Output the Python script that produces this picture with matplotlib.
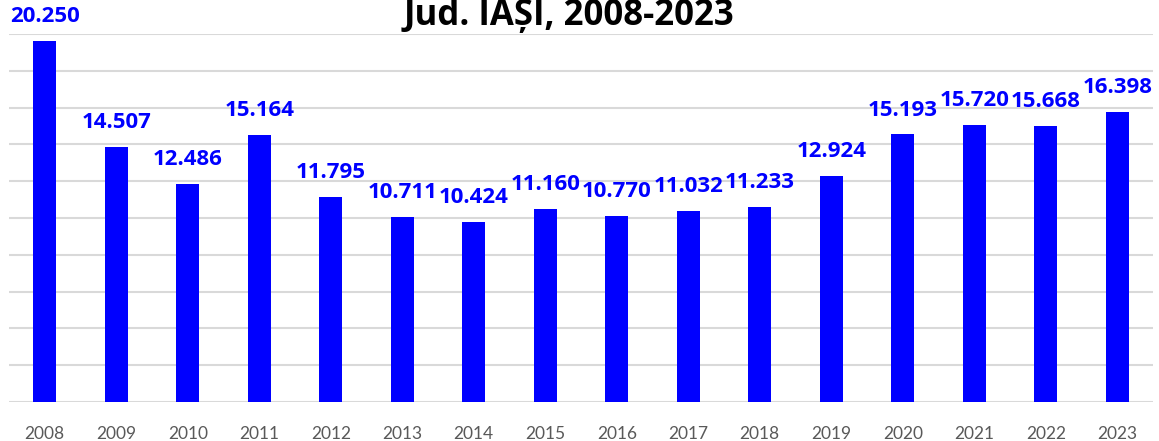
import numpy as np
import matplotlib
matplotlib.use("Agg")
import matplotlib.pyplot as plt

years = ["2008", "2009", "2010", "2011", "2012", "2013", "2014", "2015",
         "2016", "2017", "2018", "2019", "2020", "2021", "2022", "2023"]
values = [20250, 14507, 12486, 15164, 11795, 10711, 10424, 11160,
          10770, 11032, 11233, 12924, 15193, 15720, 15668, 16398]
labels = ["20.250", "14.507", "12.486", "15.164", "11.795", "10.711", "10.424", "11.160",
          "10.770", "11.032", "11.233", "12.924", "15.193", "15.720", "15.668", "16.398"]

plt.rcParams['font.family'] = ['Lato', 'DejaVu Sans']
bold_font = ['Open Sans', 'DejaVu Sans']

fig = plt.figure(figsize=(11.59, 4.41), dpi=100)
ax = fig.add_axes([9/1159, 1 - 402/441, (1153 - 9)/1159, (402 - 34)/441])

x = np.arange(len(years))
ax.bar(x, values, width=0.32, color="#0000FF", zorder=3)

# axis floor sits a bit above zero in the original
y0, step = 650, 2000
ax.set_ylim(y0, y0 + 10 * step)
ax.set_yticks(np.arange(y0, y0 + 10 * step + 1, step))
ax.yaxis.grid(True, color="#d9d9d9", linewidth=1.5, zorder=0)
ax.tick_params(axis="y", left=False, labelleft=False)
ax.set_xlim(-0.5, len(years) - 0.5)
ax.set_xticks(x)
ax.set_xticklabels(years, color="#595959", fontsize=12.5)
ax.tick_params(axis="x", bottom=False, pad=14)
for s in ax.spines.values():
    s.set_visible(False)

for xi, v, lab in zip(x, values, labels):
    ax.annotate(lab, (xi, v), xytext=(0, 10), textcoords="offset points",
                ha="center", va="bottom", color="#0000FF", fontsize=16,
                fontweight="bold", family=bold_font, clip_on=False)

# title top is cropped in the original
fig.text(569/1159, 1 - 25/441, "Jud. IAȘI, 2008-2023", ha="center", va="baseline",
         fontsize=25, fontweight="bold", family=bold_font, color="#000000")

fig.savefig("out.png", dpi=100)
